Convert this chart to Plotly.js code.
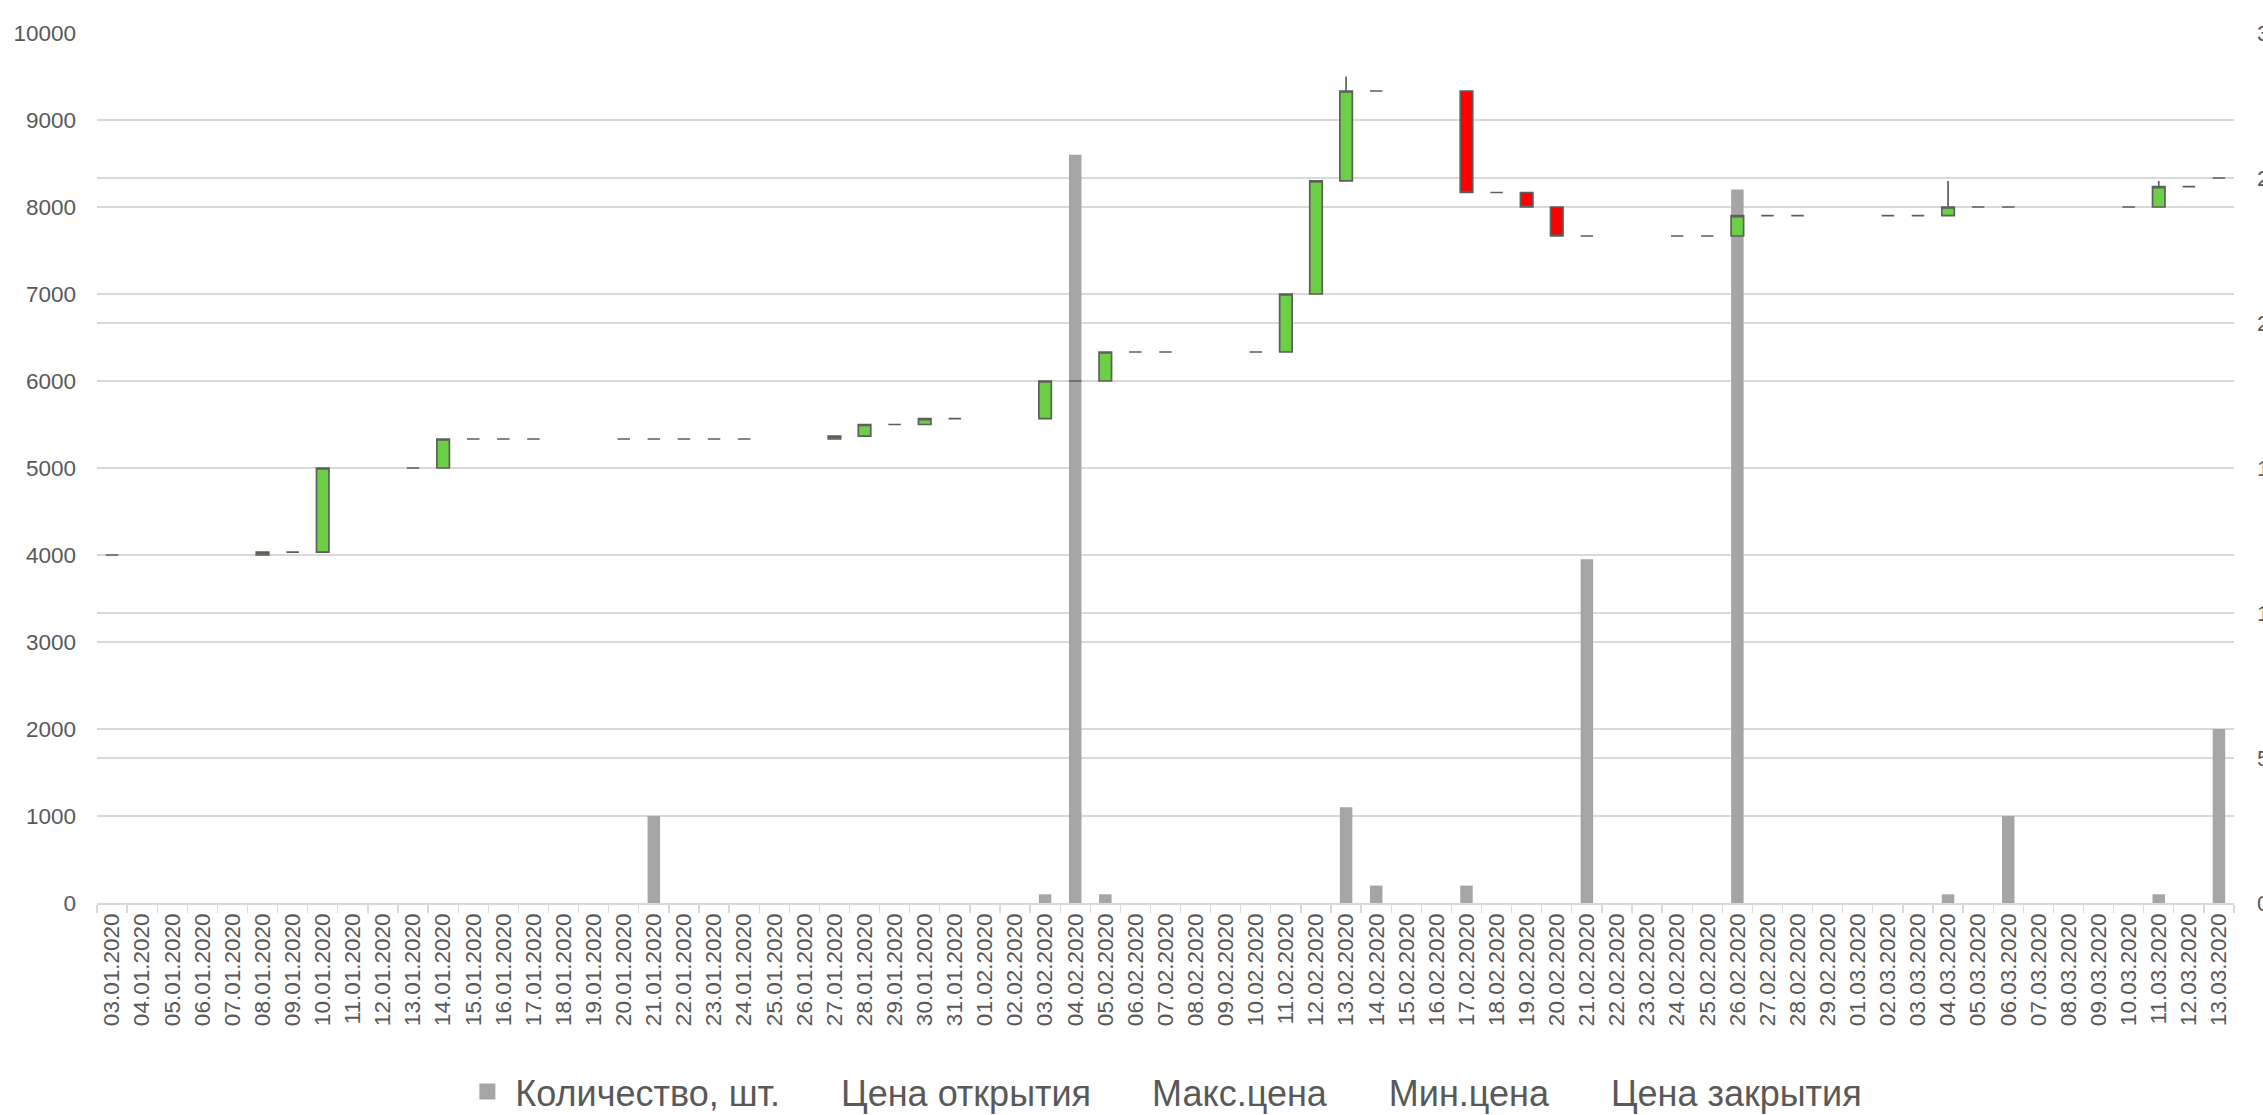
<!DOCTYPE html>
<html><head><meta charset="utf-8">
<script src="https://cdn.plot.ly/plotly-3.0.1.min.js"></script>
<style>html,body{margin:0;padding:0;background:#fff;overflow:hidden}</style>
</head><body>
<div id="chart" style="width:2263px;height:1115px"></div>
<script>
// All calendar days shown on the category axis
const allDates = [
 "03.01.2020","04.01.2020","05.01.2020","06.01.2020","07.01.2020","08.01.2020","09.01.2020","10.01.2020",
 "11.01.2020","12.01.2020","13.01.2020","14.01.2020","15.01.2020","16.01.2020","17.01.2020","18.01.2020",
 "19.01.2020","20.01.2020","21.01.2020","22.01.2020","23.01.2020","24.01.2020","25.01.2020","26.01.2020",
 "27.01.2020","28.01.2020","29.01.2020","30.01.2020","31.01.2020",
 "01.02.2020","02.02.2020","03.02.2020","04.02.2020","05.02.2020","06.02.2020","07.02.2020","08.02.2020",
 "09.02.2020","10.02.2020","11.02.2020","12.02.2020","13.02.2020","14.02.2020","15.02.2020","16.02.2020",
 "17.02.2020","18.02.2020","19.02.2020","20.02.2020","21.02.2020","22.02.2020","23.02.2020","24.02.2020",
 "25.02.2020","26.02.2020","27.02.2020","28.02.2020","29.02.2020",
 "01.03.2020","02.03.2020","03.03.2020","04.03.2020","05.03.2020","06.03.2020","07.03.2020","08.03.2020",
 "09.03.2020","10.03.2020","11.03.2020","12.03.2020","13.03.2020"
];

// Trading days (with data)
const tradeDates = [
 "03.01.2020","08.01.2020","09.01.2020","10.01.2020","13.01.2020","14.01.2020","15.01.2020","16.01.2020",
 "17.01.2020","20.01.2020","21.01.2020","22.01.2020","23.01.2020","24.01.2020","27.01.2020","28.01.2020",
 "29.01.2020","30.01.2020","31.01.2020","03.02.2020","04.02.2020","05.02.2020","06.02.2020","07.02.2020",
 "10.02.2020","11.02.2020","12.02.2020","13.02.2020","14.02.2020","17.02.2020","18.02.2020","19.02.2020",
 "20.02.2020","21.02.2020","24.02.2020","25.02.2020","26.02.2020","27.02.2020","28.02.2020","02.03.2020",
 "03.03.2020","04.03.2020","05.03.2020","06.03.2020","10.03.2020","11.03.2020","12.03.2020","13.03.2020"
];

// Количество, шт.
const volume = [
 0,0,0,0,0,0,0,0,
 0,0,1000,0,0,0,0,0,
 0,0,0,100,8600,100,0,0,
 0,0,0,1100,200,200,0,0,
 0,3950,0,0,8200,0,0,0,
 0,100,0,1000,0,100,0,2000
];

// Цена открытия
const openPrice = [
 12,12,12.1,12.1,15,15,16,16,
 16,16,16,16,16,16,16,16.1,
 16.5,16.5,16.7,16.7,18,18,19,19,
 19,19,21,24.9,28,28,24.5,24.5,
 24,23,23,23,23,23.7,23.7,23.7,
 23.7,23.7,24,24,24,24,24.7,25
];
// Макс.цена
const highPrice = [
 12,12.1,12.1,15,15,16,16,16,
 16,16,16,16,16,16,16.1,16.5,
 16.5,16.7,16.7,18,18,19,19,19,
 19,21,24.9,28.5,28,28,24.5,24.5,
 24,23,23,23,23.7,23.7,23.7,23.7,
 23.7,24.9,24,24,24,24.9,24.7,25
];
// Мин.цена
const lowPrice = [
 12,12,12.1,12.1,15,15,16,16,
 16,16,16,16,16,16,16,16.1,
 16.5,16.5,16.7,16.7,18,18,19,19,
 19,19,21,24.9,28,24.5,24.5,24,
 23,23,23,23,23,23.7,23.7,23.7,
 23.7,23.7,24,24,24,24,24.7,25
];
// Цена закрытия
const closePrice = [
 12,12.1,12.1,15,15,16,16,16,
 16,16,16,16,16,16,16.1,16.5,
 16.5,16.7,16.7,18,18,19,19,19,
 19,21,24.9,28,28,24.5,24.5,24,
 23,23,23,23,23.7,23.7,23.7,23.7,
 23.7,24,24,24,24,24.7,24.7,25
];

const leftTicks = [0,1000,2000,3000,4000,5000,6000,7000,8000,9000,10000];
const rightTicks = [0,5,10,15,20,25,30];
const seriesNames = ["Количество, шт.","Цена открытия","Макс.цена","Мин.цена","Цена закрытия"];

const tickFont = {family:"Liberation Sans, Arial, sans-serif", size:22.5, color:"#595959"};
const gridCol = "#D9D9D9";
const candleLine = "#5E5E5E";
const barColor = "#A5A5A5";

const traces = [
 {
  type:"bar", x:tradeDates, y:volume, name:seriesNames[0], showlegend:false,
  marker:{color:barColor}, xaxis:"x", yaxis:"y", hoverinfo:"skip"
 },
 {
  type:"candlestick", x:tradeDates, open:openPrice, high:highPrice, low:lowPrice, close:closePrice,
  xaxis:"x", yaxis:"y2", showlegend:false, whiskerwidth:0,
  increasing:{fillcolor:"#6DCF45", line:{color:candleLine, width:1.7}},
  decreasing:{fillcolor:"#FF0000", line:{color:candleLine, width:1.7}},
  hoverinfo:"skip"
 },
 // legend entry for the volume series (larger square symbol)
 {
  type:"scatter", mode:"markers", x:[null], y:[null], name:seriesNames[0],
  marker:{symbol:"square", size:16, color:barColor}, xaxis:"x", yaxis:"y", hoverinfo:"skip"
 }
];
for (let i = 1; i < seriesNames.length; i++) {
 traces.push({type:"scatter", mode:"lines", x:[null], y:[null], name:seriesNames[i],
   line:{color:"rgba(0,0,0,0)", width:0}, xaxis:"x", yaxis:"y2", hoverinfo:"skip"});
}

const layout = {
 width:2263, height:1115,
 paper_bgcolor:"#fff", plot_bgcolor:"#fff",
 margin:{l:97, r:29, t:33, b:212, pad:0},
 bargap:0.585, boxgap:0.585, boxgroupgap:0,
 showlegend:true,
 legend:{orientation:"h", x:0.499, xanchor:"center", xref:"paper",
   y:0.021, yref:"container", yanchor:"middle",
   font:{family:"Liberation Sans, Arial, sans-serif", size:36, color:"#595959"},
   itemwidth:46, tracegroupgap:0},
 xaxis:{
  type:"category", categoryorder:"array", categoryarray:allDates,
  tickmode:"array", tickvals:allDates, ticktext:allDates,
  range:[-0.5, allDates.length-0.5], tickangle:-90,
  tickson:"boundaries", ticks:"outside", ticklen:8, tickcolor:gridCol, tickwidth:1.3,
  showline:true, linecolor:gridCol, linewidth:1.5,
  showgrid:false, zeroline:false, tickfont:tickFont,
  rangeslider:{visible:false}, fixedrange:true
 },
 yaxis:{
  range:[0,10000], tickmode:"array", tickvals:leftTicks, ticktext:leftTicks.map(String),
  showgrid:true, gridcolor:gridCol, gridwidth:1.3, zeroline:false, showline:false,
  ticks:"", ticklabelstandoff:20, tickfont:tickFont, fixedrange:true
 },
 yaxis2:{
  overlaying:"y", side:"right", range:[0,30],
  tickmode:"array", tickvals:rightTicks, ticktext:rightTicks.map(String),
  showgrid:true, gridcolor:gridCol, gridwidth:1.3, zeroline:false, showline:false,
  ticks:"", ticklabelstandoff:22, tickfont:tickFont, fixedrange:true
 }
};

Plotly.newPlot("chart", traces, layout, {staticPlot:true, displayModeBar:false});
</script>
</body></html>
